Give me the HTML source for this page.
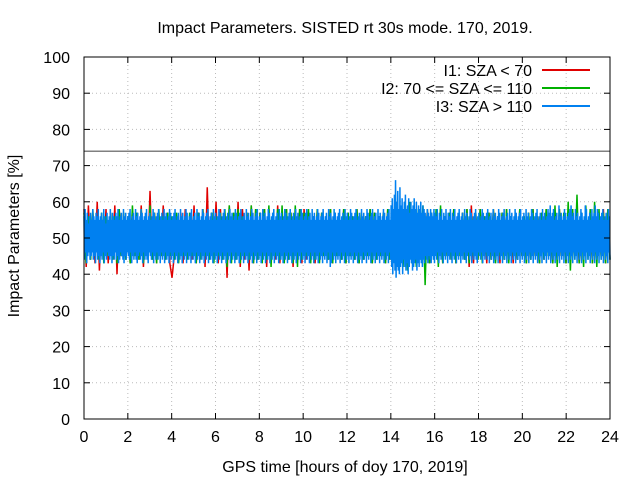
<!DOCTYPE html>
<html><head><meta charset="utf-8"><style>
body{margin:0;background:#fff;}
svg{display:block;font-family:"Liberation Sans",sans-serif;}
</style></head><body>
<svg id="chart" width="640" height="480">
<rect width="640" height="480" fill="#fff"/>
<text x="345" y="33" font-size="16" text-anchor="middle">Impact Parameters. SISTED rt 30s mode. 170, 2019.</text>
<text x="345" y="472" font-size="16" text-anchor="middle">GPS time [hours of doy 170, 2019]</text>
<text transform="translate(19,236) rotate(-90)" font-size="16" text-anchor="middle">Impact Parameters [%]</text>
<g id="grid"></g><g id="series"></g><g id="axes"></g><g id="legend"></g>
</svg>
<script>
const xTicks=[0,2,4,6,8,10,12,14,16,18,20,22,24];
const yTicks=[0,10,20,30,40,50,60,70,80,90,100];
const refLine=[74];
const red=[58,42,59,44,57,43,60,41,56,45,58,43,57,44,59,40,58,45,57,44,56,43,58,45,57,44,59,42,56,45,63,44,57,43,56,45,59,44,57,43,
39,45,56,44,57,43,58,45,56,44,59,43,57,45,58,42,64,44,57,45,60,43,58,44,57,39,59,45,56,44,60,42,58,44,57,41,59,43,58,44,
57,45,58,42,58,43,57,44,59,43,56,45,58,44,57,42,57,45,58,43,58,44,57,45,56,43,58,44,57,45,56,44,58,43,57,45,56,44,58,43,
57,45,56,44,58,43,57,44,56,45,58,43,57,44,56,45,57,43,58,44,56,45,57,44,58,43,56,45,57,44,58,43,56,45,57,44,58,43,56,45,
57,44,58,43,56,45,57,44,58,43,56,45,57,44,58,42,59,43,57,44,58,45,56,43,57,44,58,45,56,43,57,44,58,45,56,43,57,44,58,45,
56,43,57,44,58,45,56,43,57,44,58,45,56,43,57,44,58,45,56,43,57,44,58,45,56,43,57,44,58,45,56,43,58,44,57,45,58,43,57,44];
const green=[57,43,56,44,58,45,55,44,57,43,56,45,57,44,56,43,58,45,57,44,56,43,59,45,57,44,58,43,56,45,59,44,57,43,58,45,56,44,57,45,
56,44,57,43,56,45,55,44,57,45,56,43,57,44,58,45,56,44,57,43,56,45,57,44,58,42,59,43,57,44,58,43,56,45,57,44,59,43,58,44,
57,43,58,44,59,42,57,45,58,44,59,43,58,44,57,43,59,42,58,44,57,45,58,43,56,44,58,43,57,45,56,44,58,43,57,45,56,44,58,43,
57,45,56,44,58,43,57,44,56,45,58,43,57,44,56,45,57,43,58,44,56,45,57,44,58,42,59,41,60,43,57,42,58,44,59,37,58,43,57,44,
58,42,59,43,56,45,57,44,58,43,56,45,57,44,58,43,56,45,57,44,58,43,56,45,57,44,58,43,56,45,57,44,58,43,56,45,57,44,58,45,
56,43,57,44,58,45,56,43,57,44,58,45,56,43,59,42,58,45,57,43,60,41,58,44,62,43,57,42,59,44,58,43,60,42,58,44,57,43,58,44];
const blue=[
56,44,58,46,55,43,57,45,54,46,56,44,57,45,55,46,58,44,56,45,55,43,57,46,56,44,58,45,55,43,56,45,57,44,55,46,58,43,56,45,
54,44,57,46,55,45,56,44,58,45,55,43,57,45,56,44,55,46,57,44,56,45,58,43,55,44,56,46,57,45,55,44,58,43,56,45,57,44,55,46,
56,45,57,44,58,46,55,43,56,45,57,44,55,46,58,44,56,43,57,45,55,46,56,44,58,45,57,43,55,46,56,44,57,45,58,44,55,43,56,46,
57,45,55,44,56,46,58,43,57,45,55,44,56,46,57,44,58,45,55,43,56,46,57,44,55,45,58,43,56,46,57,44,55,45,56,43,58,46,57,44,
55,45,56,43,57,46,58,44,55,45,56,43,57,46,55,44,58,45,56,43,57,46,55,44,56,45,58,43,57,46,55,44,56,45,57,43,58,46,55,44,
56,45,57,43,55,46,58,44,56,45,57,43,55,46,56,44,58,45,57,43,55,46,56,44,57,45,58,43,55,46,56,44,57,45,55,43,58,46,56,44,
57,45,55,43,56,46,58,44,57,45,55,43,56,46,57,44,58,45,55,43,56,46,57,44,55,45,58,43,56,46,57,44,55,45,56,43,58,46,57,44,
55,45,56,43,57,46,58,44,55,45,56,43,57,46,55,44,58,45,56,43,57,46,55,44,56,45,58,43,57,46,55,44,56,45,57,43,58,46,55,44,
56,45,57,43,55,46,58,44,56,45,57,43,55,46,56,44,58,45,57,43,55,46,56,44,57,45,58,43,55,46,56,44,57,45,55,43,58,46,56,44,
57,45,55,43,56,46,58,44,57,45,55,43,56,46,57,44,58,45,55,43,56,46,57,44,55,45,58,43,56,46,57,44,55,45,56,43,58,46,57,44,
55,45,56,43,57,46,58,44,55,45,56,43,57,46,55,44,58,45,56,43,57,46,55,44,56,45,58,43,57,46,55,44,56,45,57,43,58,46,55,44,
56,45,57,43,55,46,58,44,56,42,57,43,55,46,56,44,58,45,57,43,55,46,56,44,57,45,58,43,55,46,56,44,57,45,55,43,58,46,56,44,
57,45,55,43,56,46,58,44,57,45,55,43,56,46,57,44,58,45,55,43,56,46,57,44,55,45,58,43,56,46,57,44,55,45,56,43,58,46,57,44,
55,45,56,43,57,46,58,44,55,45,56,43,57,46,55,44,58,45,56,43,57,46,55,44,56,45,58,43,57,46,55,44,56,45,57,43,58,46,55,44,
59,42,61,40,58,43,62,41,66,39,60,42,63,41,58,40,64,42,59,43,61,40,58,44,60,42,62,41,58,43,59,40,61,42,57,44,60,43,58,41,
59,42,61,43,58,44,60,41,57,43,59,42,58,44,60,43,57,42,59,44,58,43,57,45,56,44,58,43,57,45,56,44,58,43,57,45,56,44,58,43,
57,45,56,44,58,46,55,43,57,45,56,44,58,46,55,43,57,45,56,44,58,46,55,43,57,45,56,44,58,46,55,43,57,45,56,44,58,46,55,43,
56,45,57,44,58,46,55,43,56,45,57,44,55,46,58,44,56,43,57,45,55,46,56,44,58,45,57,43,55,46,56,44,57,45,58,44,55,43,56,46,
57,45,55,44,56,46,58,43,57,45,55,44,56,46,57,44,58,45,55,43,56,46,57,44,55,45,58,43,56,46,57,44,55,45,56,43,58,46,57,44,
55,45,56,43,57,46,58,44,55,45,56,43,57,46,55,44,58,45,56,43,57,46,55,44,56,45,58,43,57,46,55,44,56,45,57,43,58,46,55,44,
56,45,57,43,55,46,58,44,56,45,57,43,55,46,56,44,58,45,57,43,55,46,56,44,57,45,58,43,55,46,56,44,57,45,55,43,58,46,56,44,
57,45,55,43,56,46,58,44,57,45,59,43,56,46,57,44,58,45,55,43,56,46,57,44,55,45,59,43,56,46,57,44,55,45,56,43,58,46,57,44,
55,45,56,43,57,46,58,44,59,45,56,43,57,46,55,44,58,45,56,43,57,46,55,44,56,45,58,43,57,46,55,44,56,45,59,43,58,46,55,44,
56,45,57,43,55,46,58,44,56,45,57,43,59,46,56,44,58,45,57,43,55,46,56,44,57,45,58,43,55,46,56,44,57,45,55,43,58,46,56,44];
const L=84,R=610,T=57,B=419;
const sx=v=>L+(v-0)/(24-0)*(R-L);
const sy=v=>B-(v-0)/(100-0)*(B-T);
const NS="http://www.w3.org/2000/svg";
function mk(tag,attrs,parent){const e=document.createElementNS(NS,tag);for(const k in attrs)e.setAttribute(k,attrs[k]);parent.appendChild(e);return e;}
const grid=document.getElementById('grid'),axes=document.getElementById('axes'),series=document.getElementById('series'),legend=document.getElementById('legend');
xTicks.forEach(t=>{const x=sx(t);
 if(t>0&&t<24){const g=mk('line',{x1:x,x2:x,y1:T,y2:B,stroke:'#bbb','stroke-dasharray':'1,3'},grid);
 
 }
 mk('line',{x1:x,x2:x,y1:B,y2:B-6,stroke:'#000'},axes);
 mk('line',{x1:x,x2:x,y1:T,y2:T+6,stroke:'#000'},axes);
 const tx=mk('text',{x:x,y:B+23,'font-size':16,'text-anchor':'middle'},axes);tx.textContent=t;
 
 });
yTicks.forEach(t=>{const y=sy(t);
 if(t>0&&t<100){const g=mk('line',{x1:L,x2:R,y1:y,y2:y,stroke:'#bbb','stroke-dasharray':'1,3'},grid);
 
 }
 mk('line',{x1:L,x2:L+6,y1:y,y2:y,stroke:'#000'},axes);
 mk('line',{x1:R,x2:R-6,y1:y,y2:y,stroke:'#000'},axes);
 const tx=mk('text',{x:L-14,y:y+6,'font-size':16,'text-anchor':'end'},axes);tx.textContent=t;
 
 });
const frame=mk('rect',{x:L,y:T,width:R-L,height:B-T,fill:'none',stroke:'#000'},axes);


const ref=mk('line',{x1:L,x2:R,y1:sy(refLine[0]),y2:sy(refLine[0]),stroke:'#000','stroke-width':0.8},axes);


function draw(vals,color,name){const n=vals.length;
 const pts=vals.map((v,i)=>sx(i*24/(n-1)).toFixed(2)+','+sy(v).toFixed(1)).join(' ');
 const p=mk('polyline',{points:pts,fill:'none',stroke:color,'stroke-width':1.5},series);
 
 }
draw(red,'#e00000','series-i1');draw(green,'#00b000','series-i2');draw(blue,'#0080f0','series-i3');
const leg=[['I1: SZA < 70','#e00000'],['I2: 70 <= SZA <= 110','#00b000'],['I3: SZA > 110','#0080f0']];
leg.forEach((l,i)=>{const y=70+i*18;
 const tx=mk('text',{x:532,y:y+6,'font-size':16,'text-anchor':'end'},legend);tx.textContent=l[0];
 
 
 const ln=mk('line',{x1:542,x2:590,y1:y,y2:y,stroke:l[1],'stroke-width':2},legend);
 
 });
</script>
</body></html>
